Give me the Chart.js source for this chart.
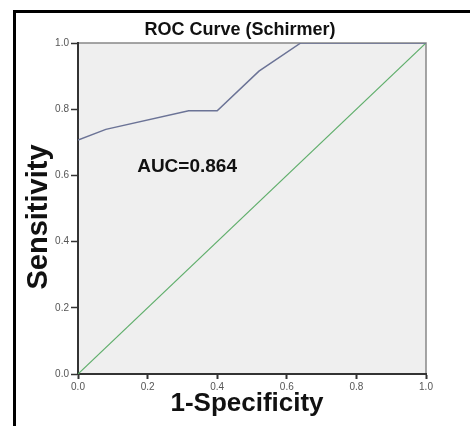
<!DOCTYPE html>
<html>
<head>
<meta charset="utf-8">
<script src="https://cdn.jsdelivr.net/npm/chart.js@4/dist/chart.umd.min.js"></script>
<style>
  html, body { margin: 0; padding: 0; background: #fff; }
  #wrap { width: 470px; height: 426px; position: relative; }
</style>
</head>
<body>
<div id="wrap"><canvas id="roc" width="470" height="426"></canvas></div>
<script>
// ROC data
const fpr = [0, 0.08, 0.318, 0.40, 0.52, 0.64, 1.0];
const tpr = [0.707, 0.739, 0.795, 0.795, 0.915, 1.0, 1.0];
const refX = [0, 1];
const refY = [0, 1];
const axisTicks = [0, 0.2, 0.4, 0.6, 0.8, 1.0];

const chartTitle = 'ROC Curve (Schirmer)';
const xTitle = '1-Specificity';
const yTitle = 'Sensitivity';
const aucLabel = 'AUC=0.864';

const toPoints = (xs, ys) => xs.map((x, i) => ({ x: x, y: ys[i] }));

// frame, plot background and texts
const decor = {
  id: 'decor',
  beforeDraw(chart) {
    const { ctx, chartArea: a } = chart;
    ctx.save();
    ctx.fillStyle = '#efefef';
    ctx.fillRect(a.left, a.top, a.right - a.left, a.bottom - a.top);
    ctx.strokeStyle = '#888';
    ctx.lineWidth = 1.5;
    ctx.beginPath();
    ctx.moveTo(a.left, a.top);
    ctx.lineTo(a.right, a.top);
    ctx.lineTo(a.right, a.bottom);
    ctx.stroke();
    // black outer frame
    ctx.strokeStyle = '#000';
    ctx.lineWidth = 3;
    ctx.beginPath();
    ctx.moveTo(14.5, 426);
    ctx.lineTo(14.5, 11.5);
    ctx.lineTo(470, 11.5);
    ctx.stroke();
    ctx.restore();
  },
  afterDraw(chart) {
    const { ctx, scales } = chart;
    ctx.save();
    ctx.fillStyle = '#111';
    ctx.textAlign = 'center';
    ctx.textBaseline = 'middle';
    ctx.font = 'bold 18px Arial, "Liberation Sans", sans-serif';
    ctx.fillText(chartTitle, 240, 30);
    ctx.font = 'bold 26px Arial, "Liberation Sans", sans-serif';
    ctx.fillText(xTitle, 247, 404);
    ctx.save();
    ctx.translate(39, 217);
    ctx.rotate(-Math.PI / 2);
    ctx.font = 'bold 29px Arial, "Liberation Sans", sans-serif';
    ctx.fillText(yTitle, 0, 0);
    ctx.restore();
    ctx.textAlign = 'left';
    ctx.font = 'bold 19px Arial, "Liberation Sans", sans-serif';
    ctx.fillText(aucLabel, scales.x.getPixelForValue(0.17), scales.y.getPixelForValue(0.625));
    ctx.restore();
  }
};

const ctx = document.getElementById('roc').getContext('2d');
const roc = new Chart(ctx, {
  type: 'scatter',
  data: {
    datasets: [
      {
        label: 'Schirmer',
        data: toPoints(fpr, tpr),
        showLine: true,
        borderColor: '#6b7396',
        borderWidth: 1.5,
        pointRadius: 0,
        tension: 0
      },
      {
        label: 'Reference Line',
        data: toPoints(refX, refY),
        showLine: true,
        borderColor: '#5fae6b',
        borderWidth: 1.2,
        pointRadius: 0
      }
    ]
  },
  options: {
    responsive: false,
    animation: false,
    devicePixelRatio: 1,
    layout: { padding: { left: 0, right: 44, top: 43, bottom: 0 } },
    plugins: {
      legend: { display: false },
      tooltip: { enabled: false }
    },
    scales: {
      x: {
        type: 'linear',
        min: 0,
        max: 1,
        afterBuildTicks: (s) => { s.ticks = axisTicks.map(v => ({ value: v })); },
        afterFit: (s) => { s.height = 52; },
        border: { color: '#333', width: 2 },
        grid: { drawOnChartArea: false, tickLength: 5, color: '#333', tickWidth: 2 },
        ticks: {
          padding: 2,
          color: '#555',
          font: { family: 'Arial', size: 10 },
          callback: (v) => v.toFixed(1)
        }
      },
      y: {
        type: 'linear',
        min: 0,
        max: 1,
        afterBuildTicks: (s) => { s.ticks = axisTicks.map(v => ({ value: v })); },
        afterFit: (s) => { s.width = 78; },
        border: { color: '#333', width: 2 },
        grid: { drawOnChartArea: false, tickLength: 7, color: '#333', tickWidth: 1.5 },
        ticks: {
          padding: 2,
          color: '#555',
          font: { family: 'Arial', size: 10 },
          callback: (v) => v.toFixed(1)
        }
      }
    }
  },
  plugins: [decor]
});
</script>
</body>
</html>
